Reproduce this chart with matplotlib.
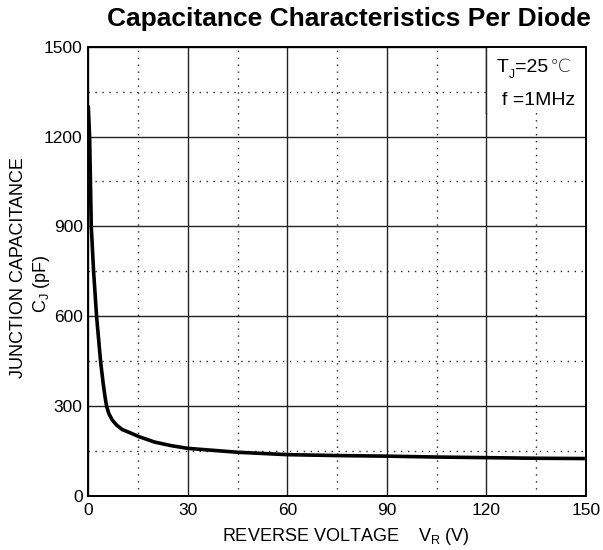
import matplotlib
matplotlib.use("Agg")
import matplotlib.pyplot as plt
from matplotlib.patches import Rectangle

plt.rcParams['font.family'] = ['Liberation Sans', 'DejaVu Sans']
plt.rcParams['mathtext.fontset'] = 'custom'
plt.rcParams['mathtext.rm'] = 'Liberation Sans'

# Data
voltage = [0, 0.4, 0.9, 1.6, 2.5, 3.7, 4.5, 5.0, 5.5, 6.2, 7.2, 8.5, 10.2, 12.6, 15.3,
           20, 25, 30, 45, 60, 75, 90, 105, 120, 135, 150]
capacitance = [1300, 1200, 900, 750, 600, 450, 375, 335, 300, 275, 254, 237, 222, 211, 198,
               180, 168, 159, 146, 138, 135, 133, 130, 128, 126, 125]

x_ticks = [0, 30, 60, 90, 120, 150]
y_ticks = [0, 300, 600, 900, 1200, 1500]
x_minor = [15, 45, 75, 105, 135]
y_minor = [150, 450, 750, 1050, 1350]

fig = plt.figure(figsize=(6.03, 5.5), dpi=100)
ax = fig.add_axes([0.1464, 0.0982, 0.8254, 0.8169])

ax.set_xlim(0, 150)
ax.set_ylim(0, 1500)
ax.set_xticks(x_ticks)
ax.set_yticks(y_ticks)
ax.set_xticks(x_minor, minor=True)
ax.set_yticks(y_minor, minor=True)
ax.tick_params(which='both', length=0, labelsize=12.5, colors='black')
ax.tick_params(axis='x', pad=5)
ax.tick_params(axis='y', pad=4)

ax.grid(which='major', color='#222222', linewidth=1.0, linestyle='-')
ax.grid(which='minor', color='#222222', linewidth=1.0, linestyle=(0, (1, 4)))

for s in ax.spines.values():
    s.set_linewidth(1.4)
    s.set_color('black')

# white label box at the top right
ax.add_patch(Rectangle((120, 1280), 30, 220, facecolor='white', edgecolor='none', zorder=2))
ax.plot([120, 120], [1280, 1500], color='#222222', linewidth=1.0, zorder=2.1)

ax.plot(voltage, capacitance, color='black', linewidth=2.6, zorder=3,
        solid_capstyle='round', solid_joinstyle='round')

fs_box = 14
t1 = ax.text(0.821, 0.934, 'T', transform=ax.transAxes, fontsize=fs_box, va='bottom', zorder=4)
t2 = ax.annotate('J', xy=(1, 0), xycoords=t1, xytext=(0, -3), textcoords='offset points',
                 fontsize=fs_box * 0.62, va='bottom', ha='left', zorder=4)
t3 = ax.annotate('=25', xy=(1, 0), xycoords=(t2, t1), fontsize=fs_box, va='bottom', ha='left',
                 zorder=4)
ax.annotate('℃', xy=(1, 0), xycoords=t3, xytext=(1, 0), textcoords='offset points',
            fontsize=fs_box * 0.95, va='bottom', ha='left', zorder=4,
            family=['DejaVu Sans'], fontweight='light', color='#222222')
ax.text(0.831, 0.862, 'f =1MHz', transform=ax.transAxes, fontsize=fs_box, va='bottom', zorder=4)

fig.text(0.578, 0.965, 'Capacitance Characteristics Per Diode', fontsize=19, fontweight='bold',
         ha='center', va='center')
fig.text(0.574, 0.025, r'REVERSE VOLTAGE    V$_\mathregular{R}$ (V)', fontsize=13, ha='center', va='center')
fig.text(0.030, 0.513, 'JUNCTION CAPACITANCE', fontsize=13, rotation=90, ha='center', va='center')
fig.text(0.068, 0.485, r'C$_\mathregular{J}$ (pF)', fontsize=13, rotation=90, ha='center', va='center')

fig.savefig('out.png', dpi=100, facecolor='white')
